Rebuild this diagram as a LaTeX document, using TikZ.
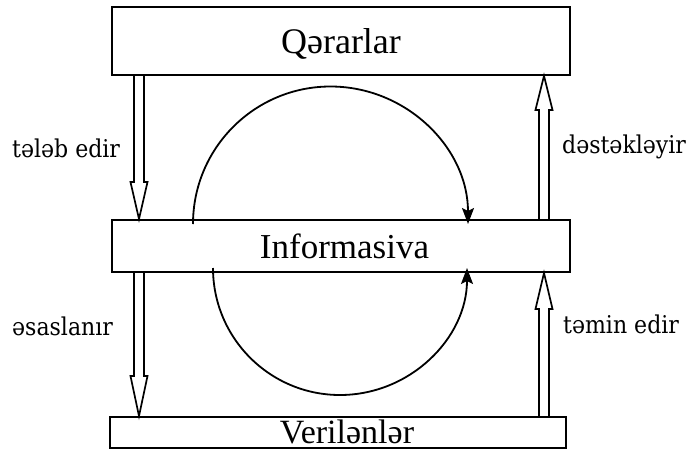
\documentclass[tikz,border=0pt]{standalone}
\usepackage{fontspec}
\setmainfont{Liberation Serif}
\newfontfamily\labelfont{DejaVu Serif Condensed}
\usetikzlibrary{calc,arrows.meta}
\tikzset{
  box/.style={draw, line width=1.9pt, inner sep=0pt, text height=24pt, text depth=0pt,
    font=\fontsize{35}{35}\selectfont},
  lbl/.style={font=\labelfont\fontsize{24.5}{24.5}\selectfont, inner sep=0pt, anchor=base west},
  harrow/.style={line width=1.7pt, line join=miter},
  cyc/.style={line width=1.8pt, -{Stealth[length=16pt,width=12pt,inset=3pt]}},
}
\newcommand{\hollowarrow}[3]{%
  \draw[harrow] let \p1=(#1), \p2=(#2), \n1={#3*sign(\y1-\y2)} in
    (\x2-5pt,\y1) -- (\x2-5pt,{\y2+\n1*1pt}) -- (\x2-8.5pt,{\y2+\n1*1pt}) -- (\x2,\y2)
    -- (\x2+8.5pt,{\y2+\n1*1pt}) -- (\x2+5pt,{\y2+\n1*1pt}) -- (\x2+5pt,\y1);}
\begin{document}
\begin{tikzpicture}[x=1pt,y=-1pt]
\useasboundingbox (0,0) rectangle (693,471);
\node[box, minimum width=458pt, minimum height=68pt, font=\fontsize{36}{36}\selectfont] (Q) at (341,41) {Qərarlar};
\node[box, minimum width=458pt, minimum height=52pt] (I) at (341,246) {\hspace*{7pt}Informasiva};
\node[box, minimum width=456pt, minimum height=31pt, text height=21pt, font=\fontsize{34}{34}\selectfont] (V) at (338,432.5) {\hspace*{18pt}Verilənlər};
\coordinate (xl) at (139,0);
\coordinate (xr) at (544,0);
\hollowarrow{Q.south -| xl}{I.north -| xl}{37}
\hollowarrow{I.south -| xl}{V.north -| xl}{40}
\hollowarrow{I.north -| xr}{Q.south -| xr}{34}
\hollowarrow{V.north -| xr}{I.south -| xr}{36}
\coordinate (ta) at (193,224);
\coordinate (ba) at (213,268);
\draw[cyc] (ta) arc[start angle=180, end angle=0, radius=137.5pt];
\draw[cyc] (ba) arc[start angle=180, end angle=360, radius=127pt];
\node[lbl] (l1) at (12,157) {tələb edir};
\node[lbl] (l2) at (12,335) {əsaslanır};
\node[lbl] (l3) at (562,153) {dəstəkləyir};
\node[lbl] (l4) at (563,333) {təmin edir};
\end{tikzpicture}
\end{document}
